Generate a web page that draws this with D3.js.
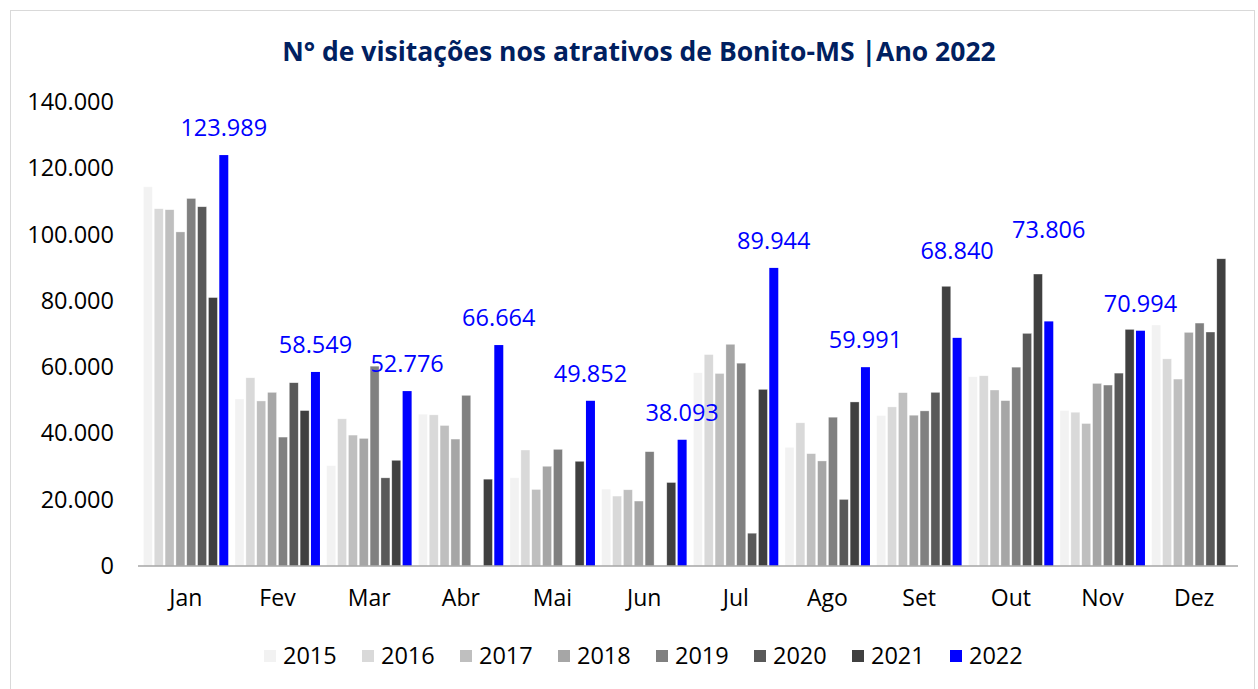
<!DOCTYPE html>
<html>
<head>
<meta charset="utf-8">
<script src="https://cdn.jsdelivr.net/npm/d3@7"></script>
<style>
  body { margin: 0; background: #fff; }
  svg { display: block; font-family: 'Open Sans', sans-serif; }
</style>
</head>
<body>
<div id="graf"></div>
<script>
// I. Dados
meses = ['Jan', 'Fev', 'Mar', 'Abr', 'Mai', 'Jun', 'Jul', 'Ago', 'Set', 'Out', 'Nov', 'Dez']
anos = ['2015', '2016', '2017', '2018', '2019', '2020', '2021', '2022']

v2015 = [114400, 50400, 30300, 45800, 26600, 23200, 58300, 35800, 45400, 57100, 46900, 72700]
v2016 = [107800, 56800, 44400, 45600, 35000, 21100, 63800, 43200, 48000, 57400, 46400, 62500]
v2017 = [107500, 49800, 39500, 42400, 23100, 23000, 58100, 33900, 52300, 53100, 43000, 56400]
v2018 = [100800, 52400, 38500, 38300, 30100, 19600, 66900, 31700, 45500, 49900, 55100, 70500]
v2019 = [110900, 38900, 60300, 51500, 35200, 34500, 61200, 44900, 46800, 60000, 54600, 73300]
v2020 = [108400, 55300, 26600, null, null, null, 9900, 20100, 52400, 70200, 58200, 70600]
v2021 = [81000, 46900, 31900, 26200, 31600, 25200, 53300, 49500, 84400, 88100, 71400, 92700]
v2022 = [123989, 58549, 52776, 66664, 49852, 38093, 89944, 59991, 68840, 73806, 70994, null]

ticksY = [0, 20000, 40000, 60000, 80000, 100000, 120000, 140000]

series = [v2015, v2016, v2017, v2018, v2019, v2020, v2021, v2022]
cores = ['#f2f2f2', '#d9d9d9', '#bfbfbf', '#a6a6a6', '#808080', '#595959', '#404040', '#0000ff']

// deslocamento extra dos rótulos (px), como no original
subirRotulo = [0, 0, 0, 0, 0, 0, 0, 0, 60, 64, 0, 0]

// II. Configuração
W = 1258
H = 689

svg = d3.select('#graf').append('svg')
        .attr('width', W)
        .attr('height', H)

svg.append('rect')
   .attr('x', 10.5).attr('y', 10.5)
   .attr('width', W - 14).attr('height', H)
   .attr('fill', '#fff')
   .attr('stroke', '#d9d9d9')
   .attr('stroke-width', 1)

svg.append('text')
   .attr('x', 639)
   .attr('y', 61)
   .attr('text-anchor', 'middle')
   .attr('fill', '#002060')
   .style('font-size', '26.5px')
   .style('font-weight', 'bold')
   .text('N° de visitações nos atrativos de Bonito-MS |Ano 2022')

x0 = d3.scaleBand()
       .domain(meses)
       .range([140, 1240])
       .paddingInner(0.05)
       .paddingOuter(0.025)

x1 = d3.scaleBand()
       .domain(anos)
       .range([0, x0.bandwidth()])
       .paddingInner(0.17)
       .paddingOuter(0.1)

y = d3.scaleLinear()
      .domain([0, 140000])
      .range([566, 102])

fmt = d3.formatLocale({ decimal: ',', thousands: '.', grouping: [3], currency: ['R$', ''] }).format(',d')

// III. Barras
dados = []
meses.forEach((m, i) => {
  anos.forEach((a, j) => {
    if (series[j][i] != null) dados.push({ mes: m, ano: a, valor: series[j][i], i: i, j: j })
  })
})

g = svg.append('g')

g.selectAll('rect.barra')
 .data(dados)
 .enter()
 .append('rect')
   .attr('class', 'barra')
   .attr('x', d => x0(d.mes) + x1(d.ano))
   .attr('y', d => y(d.valor))
   .attr('width', x1.bandwidth())
   .attr('height', d => y(0) - y(d.valor))
   .attr('fill', d => cores[d.j])
   .attr('stroke', d => d.j == 7 ? 'none' : 'rgba(255,255,255,0.6)')
   .attr('stroke-width', 0.6)

// rótulos de 2022
rotulos = dados.filter(d => d.ano == '2022')
g.selectAll('text.rotulo')
 .data(rotulos)
 .enter()
 .append('text')
   .attr('class', 'rotulo')
   .attr('x', d => x0(d.mes) + x1(d.ano) + x1.bandwidth() / 2)
   .attr('y', d => y(d.valor) - 19 - subirRotulo[d.i])
   .attr('text-anchor', 'middle')
   .attr('fill', '#0000ff')
   .style('font-size', '23.5px')
   .text(d => fmt(d.valor))

// IV. Eixos
xAxisGroup = svg.append('g')
                .attr('transform', `translate(0, ${y(0)})`)
xAxisGroup.call(d3.axisBottom(x0).tickSize(0).tickPadding(24))
xAxisGroup.select('.domain')
          .attr('stroke', '#a6a6a6')
          .attr('stroke-width', 1.5)
          .attr('d', 'M138,0H1238')
xAxisGroup.selectAll('text')
          .style('font-size', '23px')
          .style('font-family', "'Open Sans', sans-serif")
          .attr('fill', '#000')

yAxisGroup = svg.append('g')
                .attr('transform', 'translate(114, 0)')
yAxisGroup.call(d3.axisLeft(y).tickValues(ticksY).tickSize(0).tickPadding(0).tickFormat(d => fmt(d)))
yAxisGroup.select('.domain').remove()
yAxisGroup.selectAll('text')
          .style('font-size', '23.5px')
          .style('font-family', "'Open Sans', sans-serif")
          .attr('fill', '#000')

// V. Legenda
leg = svg.append('g')
         .attr('transform', 'translate(264, 650)')
item = leg.selectAll('g')
          .data(anos)
          .enter()
          .append('g')
          .attr('transform', (d, i) => `translate(${i * 98}, 0)`)
item.append('rect')
    .attr('width', 12).attr('height', 12)
    .attr('fill', (d, i) => cores[i])
item.append('text')
    .attr('x', 19)
    .attr('y', 6)
    .attr('dy', '0.36em')
    .style('font-size', '23.5px')
    .text(d => d)
</script>
</body>
</html>
